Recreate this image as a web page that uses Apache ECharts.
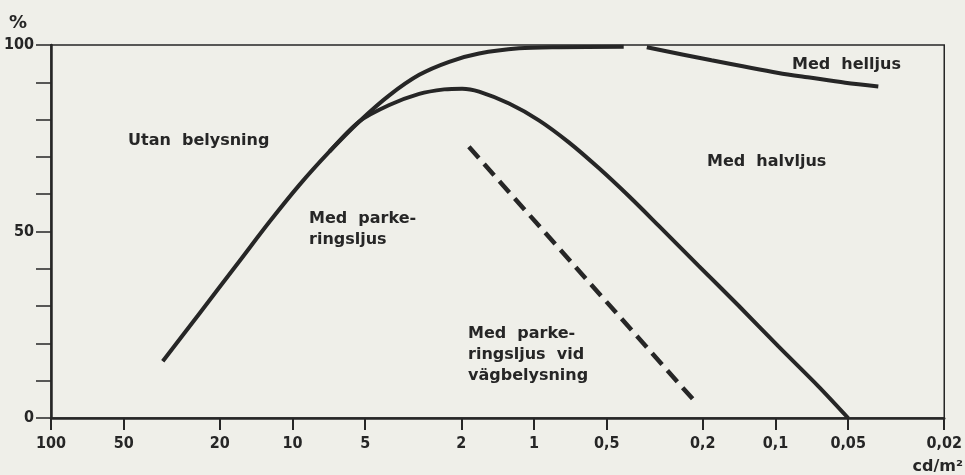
<!DOCTYPE html>
<html>
<head>
<meta charset="utf-8">
<script src="https://cdn.jsdelivr.net/npm/echarts@6/dist/echarts.min.js"></script>
<style>
  html, body { margin: 0; padding: 0; background: #efefe9; }
  #chart { width: 965px; height: 475px; }
</style>
</head>
<body>
<div id="chart"></div>
<script>
// x: luminans cd/m2 (log, omvänd), y: procent
const xTicks = [100, 50, 20, 10, 5, 2, 1, 0.5, 0.2, 0.1, 0.05, 0.02];
const yTicks = [0, 50, 100];

// Utan belysning (övre kurvan upp till 100 %)
const utanX = [34.45, 24.23, 16.56, 12.45, 9.356, 7.034, 5.287, 3.974, 2.987, 2.245, 1.688, 1.153, 0.788, 0.425];
const utanY = [15.2, 28.1, 42.1, 52.6, 62.5, 71.4, 79.5, 86.5, 92.0, 95.5, 97.7, 99.1, 99.4, 99.5];
// Med helljus
const hellX = [0.341, 0.184, 0.0972, 0.0710, 0.0514, 0.0375];
const hellY = [99.4, 95.9, 92.5, 91.2, 89.9, 88.9];
// Med parkeringsljus / halvljus
const halvX = [7.034, 5.287, 3.974, 2.987, 2.354, 1.984, 1.688, 1.268, 0.954, 0.717, 0.539, 0.405, 0.304, 0.208, 0.142, 0.0972, 0.0664, 0.05];
const halvY = [71.4, 79.5, 83.9, 86.9, 88.1, 88.3, 87.5, 84.3, 79.8, 73.9, 67.0, 59.5, 51.5, 40.8, 30.1, 19.2, 8.5, 0];
// Med parkeringsljus vid vägbelysning (streckad)
const vagX = [1.86, 0.218];
const vagY = [72.7, 4.8];

const ink = '#262626';
const pairs = (xs, ys) => xs.map((x, i) => [x, ys[i]]);
const fmt = v => String(+v.toPrecision(3)).replace('.', ',');

const chart = echarts.init(document.getElementById('chart'));

const lineSeries = (data, extra) => Object.assign({
  type: 'line',
  data: data,
  smooth: 0.3,
  symbol: 'none',
  lineStyle: { color: ink, width: 4, cap: 'butt' },
  silent: true
}, extra);

const txt = (text, x, y, size, align) => ({
  type: 'text',
  x: x,
  y: y,
  style: {
    text: text,
    fill: ink,
    font: 'bold ' + size + 'px "DejaVu Sans"',
    lineHeight: 21,
    align: align || 'left',
    verticalAlign: 'top'
  }
});

chart.setOption({
  backgroundColor: '#efefe9',
  animation: false,
  grid: {
    left: 51, right: 18, top: 45, bottom: 57,
    show: true, borderColor: ink, borderWidth: 1.5
  },
  xAxis: {
    type: 'log',
    logBase: 10,
    inverse: true,
    min: 0.02,
    max: 100,
    axisLine: { onZero: false, lineStyle: { color: ink, width: 2.5 } },
    axisTick: { customValues: xTicks, length: 12, lineStyle: { color: ink, width: 2 } },
    axisLabel: {
      customValues: xTicks,
      formatter: fmt,
      color: ink,
      margin: 18,
      fontFamily: 'DejaVu Sans Condensed',
      fontWeight: 'bold',
      fontSize: 16
    },
    splitLine: { show: false },
    minorTick: { show: false }
  },
  yAxis: {
    type: 'value',
    min: 0,
    max: 100,
    interval: 10,
    axisLine: { show: true, lineStyle: { color: ink, width: 2.5 } },
    axisTick: { show: true, length: 15, lineStyle: { color: ink, width: 1.5 } },
    axisLabel: {
      formatter: v => (yTicks.indexOf(v) >= 0 ? String(v) : ''),
      color: ink,
      margin: 17,
      fontFamily: 'DejaVu Sans Condensed',
      fontWeight: 'bold',
      fontSize: 16
    },
    splitLine: { show: false }
  },
  series: [
    lineSeries(pairs(utanX, utanY)),
    lineSeries(pairs(hellX, hellY)),
    lineSeries(pairs(halvX, halvY)),
    lineSeries(pairs(vagX, vagY), {
      smooth: false,
      lineStyle: { color: ink, width: 4.5, type: [15, 8], cap: 'butt' }
    })
  ],
  graphic: [
    txt('%', 9, 13, 18),
    txt('cd/m²', 963, 456, 16, 'right'),
    txt('Utan  belysning', 128, 130, 16),
    txt('Med  parke-\nringsljus', 309, 208, 16),
    txt('Med  parke-\nringsljus  vid\nvägbelysning', 468, 323, 16),
    txt('Med  halvljus', 707, 151, 16),
    txt('Med  helljus', 792, 54, 16)
  ]
});
</script>
</body>
</html>
